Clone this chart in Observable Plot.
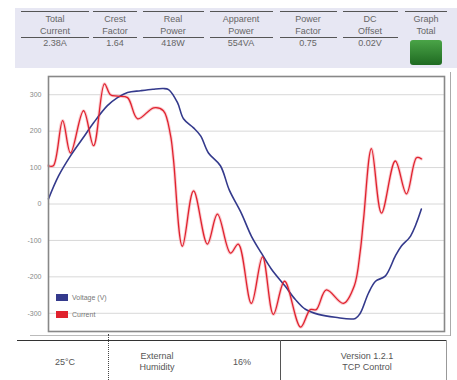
<!DOCTYPE html>
<html>
<head>
<meta charset="utf-8">
<script src="https://cdn.jsdelivr.net/npm/d3@7"></script>
<script src="https://cdn.jsdelivr.net/npm/@observablehq/plot@0.6"></script>
<style>
  html, body { margin: 0; padding: 0; background: #fff; }
  #root { position: relative; width: 457px; height: 380px; overflow: hidden; font-family: "Liberation Sans", Arial, sans-serif; color: #666; }
  .hdr { position: absolute; left: 15px; top: 8px; width: 442px; height: 60px; background: #e7e7f3; }
  .col { position: absolute; top: 3px; text-align: center; font-size: 9px; line-height: 12px; }
  .col .lab { border-top: 1.5px solid #555; border-bottom: 1.5px solid #555; padding-top: 1px; }
  .col .val { line-height: 11px; }
  .btn { position: absolute; left: 395px; top: 32px; width: 32px; height: 25px; border-radius: 3px; background: linear-gradient(#4aa447, #1f6a22); }
  .foot { position: absolute; font-size: 9px; line-height: 11px; text-align: center; color: #555; }
  #chart { position: absolute; left: 0; top: 68px; }
  .leg { position: absolute; font-size: 7px; color: #777; display: flex; align-items: center; }
  .leg span.sw { display: inline-block; width: 12px; height: 7px; margin-right: 4px; }
</style>
</head>
<body>
<div id="root">
  <div class="hdr" id="hdr"></div>
  <div id="chart"></div>
  <div style="position:absolute;left:450px;top:72px;width:0;height:264px;border-left:1px solid #aaa"></div>
  <div style="position:absolute;left:30px;top:335px;width:420px;height:0;border-top:1px solid #bbb"></div>
  <div style="position:absolute;left:17px;top:340px;width:430px;height:0;border-top:1.5px solid #333"></div>
  <div style="position:absolute;left:108px;top:334px;width:0;height:46px;border-left:1px dotted #444"></div>
  <div style="position:absolute;left:280px;top:340px;width:0;height:40px;border-left:1.5px solid #555"></div>
  <div style="position:absolute;left:446px;top:340px;width:0;height:40px;border-left:1px solid #999"></div>
  <div id="legend"></div>
  <div id="footer"></div>
</div>
<script>
// ---- Data ----
const headerLabels = [["Total", "Current"], ["Crest", "Factor"], ["Real", "Power"], ["Apparent", "Power"], ["Power", "Factor"], ["DC", "Offset"], ["Graph", "Total"]];
const headerValues = ["2.38A", "1.64", "418W", "554VA", "0.75", "0.02V", ""];

const yTicks = [300, 200, 100, 0, -100, -200, -300];

const seriesNames = ["Voltage (V)", "Current"];
const seriesColors = ["#343a8c", "#e0222e"];

const voltageT = [0, 2.7, 5.9, 9.1, 12.1, 15.8, 18.5, 21.2, 24.7, 28, 30.8, 32.2, 34.6, 36.2, 38.9, 40.8, 42.9, 46.1, 48.5, 51.7, 54.4, 57.1, 59.8, 63.5, 66.2, 68.9, 72.4, 76.9, 82.3, 83.6, 85.8, 87.7, 90.3, 93.0, 94.6, 97.1, 100];
const voltage = [14, 77, 132, 179, 223, 270, 292, 306, 311, 315, 317, 314, 278, 234, 209, 187, 140, 105, 38, -25, -88, -135, -179, -226, -262, -289, -303, -311, -314, -300, -245, -212, -198, -143, -116, -88, -14];

const currentT = [0, 1.3, 3.8, 5.9, 9.4, 12.1, 15.0, 16.6, 18.5, 21.2, 23.9, 28.2, 30.8, 32.7, 33.5, 35.9, 38.9, 42.6, 45.3, 48.8, 50.9, 54.4, 57.4, 60.3, 63.3, 67.6, 70.2, 71.8, 74.5, 79.1, 82.0, 83.6, 84.5, 86.6, 89.3, 93.0, 96.0, 98.7, 100];
const current = [105, 105, 229, 140, 256, 160, 330, 300, 296, 292, 234, 264, 256, 190, 124, -116, 36, -110, -28, -135, -110, -273, -145, -303, -212, -338, -290, -290, -236, -273, -225, -130, -41, 152, -25, 118, 28, 127, 124];

const footerCells = [
  {lines: ["25°C"], x: 65},
  {lines: ["External", "Humidity"], x: 157},
  {lines: ["16%"], x: 242},
  {lines: ["Version 1.2.1", "TCP Control"], x: 367}
];

// ---- Header ----
const colCenters = [55, 115, 173, 241, 308, 370, 426];
const colWidths = [68, 44, 61, 63, 57, 55, 42];
const hdr = document.getElementById("hdr");
headerLabels.forEach((lab, i) => {
  const d = document.createElement("div");
  d.className = "col";
  d.style.left = (colCenters[i] - colWidths[i] / 2 - 15) + "px";
  d.style.width = colWidths[i] + "px";
  const l = document.createElement("div");
  l.className = "lab";
  if (i === headerLabels.length - 1) l.style.borderBottom = "none";
  l.innerHTML = lab.join("<br>");
  d.appendChild(l);
  const v = document.createElement("div");
  v.className = "val";
  v.textContent = headerValues[i];
  d.appendChild(v);
  hdr.appendChild(d);
});
const btn = document.createElement("div");
btn.className = "btn";
hdr.appendChild(btn);

// ---- Chart ----
const vData = voltageT.map((t, i) => ({t, v: voltage[i]}));
const cData = currentT.map((t, i) => ({t, v: current[i]}));

const chart = Plot.plot({
  width: 457,
  height: 272,
  marginTop: 8,
  marginBottom: 9,
  marginLeft: 48,
  marginRight: 13,
  style: {fontFamily: "Liberation Sans, Arial, sans-serif", fontSize: "7px", color: "#888", background: "#fff"},
  x: {domain: [0, 106.2], axis: null},
  y: {domain: [-350, 350], axis: null},
  marks: [
    Plot.gridY(yTicks, {stroke: "#d8d8d8", strokeOpacity: 1}),
    Plot.axisY(yTicks, {tickSize: 0, tickPadding: 7, tickFormat: d => String(d), fill: "#888", fontSize: 7, label: null}),
    Plot.line(cData, {x: "t", y: "v", stroke: "#f5a6ad", strokeWidth: 3.2, strokeOpacity: 0.55, curve: "catmull-rom"}),
    Plot.line(vData, {x: "t", y: "v", stroke: seriesColors[0], strokeWidth: 1.6, curve: "catmull-rom"}),
    Plot.line(cData, {x: "t", y: "v", stroke: seriesColors[1], strokeWidth: 1.3, curve: "catmull-rom"}),
    Plot.frame({stroke: "#888", strokeWidth: 1.6})
  ]
});
document.getElementById("chart").appendChild(chart);

// ---- Legend ----
const legend = document.getElementById("legend");
seriesNames.forEach((name, i) => {
  const d = document.createElement("div");
  d.className = "leg";
  d.style.left = "56px";
  d.style.top = (294 + i * 17) + "px";
  d.innerHTML = `<span class="sw" style="background:${seriesColors[i]}"></span>${name}`;
  legend.appendChild(d);
});

// ---- Footer ----
const footer = document.getElementById("footer");
footerCells.forEach(c => {
  const d = document.createElement("div");
  d.className = "foot";
  d.style.left = (c.x - 40) + "px";
  d.style.width = "80px";
  d.style.top = (c.lines.length === 1 ? 357 : 351) + "px";
  d.innerHTML = c.lines.join("<br>");
  footer.appendChild(d);
});
</script>
</body>
</html>
